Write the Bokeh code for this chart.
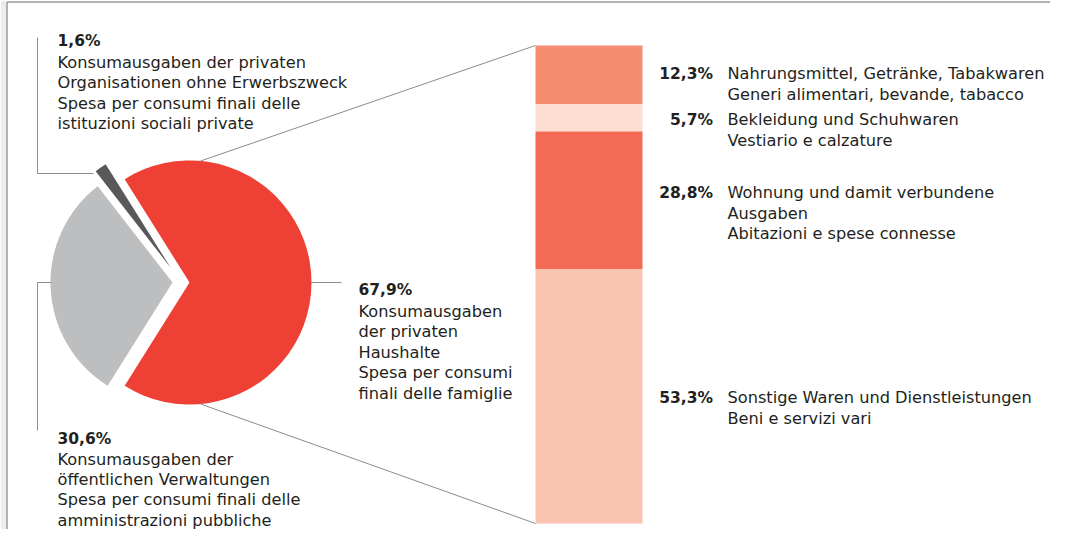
import math
from bokeh.plotting import figure
from bokeh.models import Range1d
from bokeh.core.properties import value
from bokeh.embed import file_html
from bokeh.resources import INLINE

# ---------------- data ----------------
pie_values = [67.9, 1.6, 30.6]          # households, non-profit institutions, government
pie_colors = ["#EF4036", "#58595B", "#BCBEC0"]
pie_pct_labels = ["67,9%", "1,6%", "30,6%"]
pie_text = [
    ["Konsumausgaben", "der privaten", "Haushalte", "Spesa per consumi", "finali delle famiglie"],
    ["Konsumausgaben der privaten", "Organisationen ohne Erwerbszweck",
     "Spesa per consumi finali delle", "istituzioni sociali private"],
    ["Konsumausgaben der", "öffentlichen Verwaltungen",
     "Spesa per consumi finali delle", "amministrazioni pubbliche"],
]

sub_values = [12.3, 5.7, 28.8, 53.3]    # household spending, from top to bottom
sub_colors = ["#F68D70", "#FDDED3", "#F36B54", "#FAC4B1"]
sub_pct_labels = ["12,3%", "5,7%", "28,8%", "53,3%"]
sub_text = [
    ["Nahrungsmittel, Getränke, Tabakwaren", "Generi alimentari, bevande, tabacco"],
    ["Bekleidung und Schuhwaren", "Vestiario e calzature"],
    ["Wohnung und damit verbundene", "Ausgaben", "Abitazioni e spese connesse"],
    ["Sonstige Waren und Dienstleistungen", "Beni e servizi vari"],
]

# ---------------- layout (screen pixels, y measured from top) ----------------
W, H = 1050, 529
def Y(sy):
    return 545 - sy

FONT = value("DejaVu Sans")
TXT = "#231F20"
LINE = "#8C8C8C"
FS = "16.2px"
FSB = "15.5px"

p = figure(width=W, height=H, x_range=Range1d(0, W), y_range=Range1d(545 - H, 545),
           toolbar_location=None, output_backend="svg", min_border=0)
p.axis.visible = False
p.grid.visible = False
p.outline_line_color = None
p.background_fill_color = "white"

# frame (grey strip on the left, top and left rules)
p.quad(left=[0], right=[6], top=[545], bottom=[545 - H], fill_color="#EDEDED", line_color=None)
p.multi_line(xs=[[6.5, 6.5], [6.5, W]], ys=[[545 - H, Y(1.5)], [Y(1.5), Y(1.5)]],
             line_color="#9A9A9A", line_width=1.5)

# ---------------- pie ----------------
cx, cy, R = 189, Y(282), 122
total = sum(pie_values)
explode = [(0, 0), (-19, 15), (-17, 0)]   # pixel offsets of slices
start = -pie_values[0] / total * math.pi
for v, col, (dx, dy) in zip(pie_values, pie_colors, explode):
    end = start + v / total * 2 * math.pi
    p.wedge(x=cx + dx, y=cy + dy, radius=R, start_angle=start, end_angle=end,
            fill_color=col, line_color=None)
    start = end

# ---------------- stacked bar ----------------
bar_left, bar_right = 535, 642
bar_top_y, bar_bot_y = Y(45), Y(523)
sub_total = sum(sub_values)
def to_bar(y):
    return (y - bar_bot_y) / (bar_top_y - bar_bot_y) * sub_total
p.extra_y_ranges = {"bar": Range1d(to_bar(545 - H), to_bar(545))}
tops, bottoms = [], []
acc = sub_total
for v in sub_values:
    tops.append(acc)
    bottoms.append(acc - v)
    acc -= v
p.quad(left=bar_left, right=bar_right, top=tops, bottom=bottoms, fill_color=sub_colors,
       line_color=None, y_range_name="bar")

# connector lines from pie to bar
a = math.radians(84.8)
p.segment(x0=[cx + R * math.cos(a), cx + R * math.cos(-a)],
          y0=[cy + R * math.sin(a), cy + R * math.sin(-a)],
          x1=[bar_left, bar_left], y1=[bar_top_y, bar_bot_y],
          line_color=LINE, line_width=1)

# leader lines
p.multi_line(
    xs=[[37, 37, 93], [51, 37, 37], [310, 341]],
    ys=[[Y(37), Y(173), Y(173)], [Y(282), Y(282), Y(430)], [Y(282), Y(282)]],
    line_color=LINE, line_width=1)

# ---------------- pie labels ----------------
pie_anchor = [(358, 289.5, 20.6), (57, 40.5, 20.6), (57, 438, 20.2)]
for (ax, ay, step), pct, lines in zip(pie_anchor, pie_pct_labels, pie_text):
    p.text(x=[ax], y=[Y(ay)], text=[pct], text_font=FONT, text_font_size=FSB,
           text_font_style="bold", text_color=TXT, text_baseline="alphabetic")
    ys = [Y(ay + 21 + step * i) for i in range(len(lines))]
    p.text(x=[ax] * len(lines), y=ys, text=lines, text_font=FONT, text_font_size=FS,
           text_color=TXT, text_baseline="alphabetic")

# ---------------- bar labels ----------------
sub_anchor = [73, 119, 192, 397]
for ay, pct, lines in zip(sub_anchor, sub_pct_labels, sub_text):
    p.text(x=[712.5], y=[Y(ay)], text=[pct], text_font=FONT, text_font_size=FSB,
           text_font_style="bold", text_color=TXT, text_baseline="alphabetic",
           text_align="right")
    ys = [Y(ay + 20.5 * i) for i in range(len(lines))]
    p.text(x=[727] * len(lines), y=ys, text=lines, text_font=FONT, text_font_size=FS,
           text_color=TXT, text_baseline="alphabetic")

open("out.html", "w").write(file_html(p, INLINE))
